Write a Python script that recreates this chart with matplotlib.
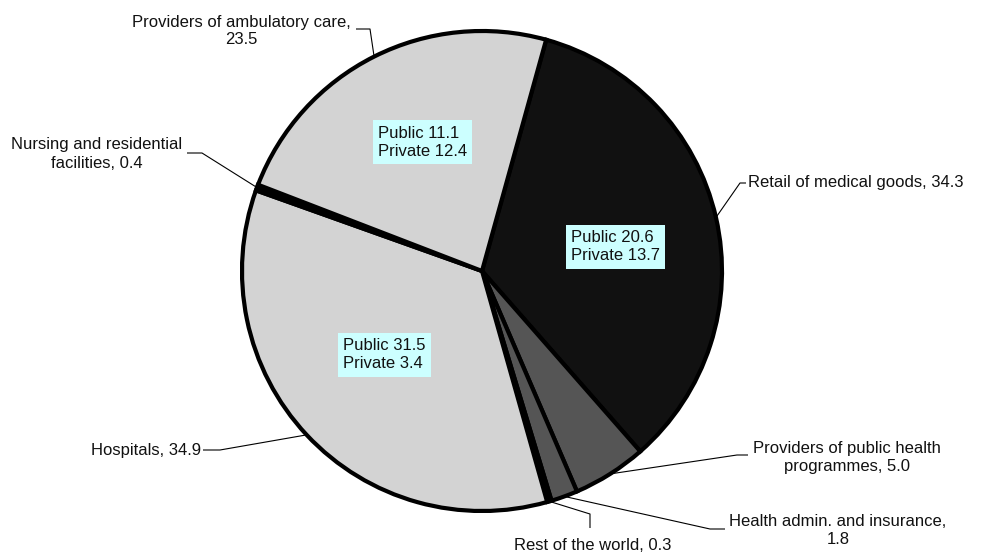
import numpy as np
import matplotlib
matplotlib.use("Agg")
import matplotlib.pyplot as plt

# ---- data ----
values = [34.3, 5.0, 1.8, 0.3, 34.9, 0.4, 23.5]
label_texts = ["Retail of medical goods, 34.3",
               "Providers of public health\nprogrammes, 5.0",
               "Health admin. and insurance,\n1.8",
               "Rest of the world, 0.3",
               "Hospitals, 34.9",
               "Nursing and residential\nfacilities, 0.4",
               "Providers of ambulatory care,\n23.5"]
public_vals = {0: 20.6, 4: 31.5, 6: 11.1}
private_vals = {0: 13.7, 4: 3.4, 6: 12.4}
colors = ["#111111", "#555555", "#555555", "#000000", "#d3d3d3", "#000000", "#d3d3d3"]

# ---- layout (pixel coordinates, y from top) ----
W, H = 983, 555
CX, CY, R = 482, 271, 240

def Y(y):
    return H - y

plt.rcParams['font.family'] = ['Liberation Sans', 'DejaVu Sans']
fig = plt.figure(figsize=(W / 100, H / 100), dpi=100)
ax = fig.add_axes([0, 0, 1, 1])

wedges, _ = ax.pie(values, colors=colors, startangle=74.5, counterclock=False,
                   center=(CX, Y(CY)), radius=R,
                   wedgeprops=dict(edgecolor="black", linewidth=3.0))
ax.set_xlim(0, W)
ax.set_ylim(0, H)
ax.set_aspect("equal")
ax.axis("off")

# label layout: (elbow point, line end near text, text pos, ha)
layout = {
    0: ((740, 183), (746, 183), (748, 183), "left"),
    1: ((737, 455), (748, 455), (847, 457), "center"),
    2: ((710, 529), (725, 529), (838, 530), "center"),
    3: ((590, 514), (590, 528), (593, 545), "center"),
    4: ((220, 450), (203, 450), (201, 450), "right"),
    5: ((202, 153), (187, 153), (97, 154), "center"),
    6: ((370, 29), (356, 29), (241, 31), "center"),
}

fs = 12
for i, w in enumerate(wedges):
    mid = np.deg2rad((w.theta1 + w.theta2) / 2)
    ex = CX + R * np.cos(mid)
    ey = Y(CY) + R * np.sin(mid)
    (bx, by), (lx, ly), (tx, ty), ha = layout[i]
    ax.plot([ex, bx, lx], [ey, Y(by), Y(ly)], color="black", lw=0.8,
            solid_capstyle="butt", zorder=5)
    ax.text(tx, Y(ty), label_texts[i], ha=ha, va="center", fontsize=fs,
            multialignment="center", color="#111111", linespacing=1.25)

# inner boxes
box_pos = {0: (571, 247), 4: (343, 355), 6: (378, 142)}
for i, (bx, by) in box_pos.items():
    ax.text(bx, Y(by), f"Public {public_vals[i]:.1f}\nPrivate {private_vals[i]:.1f}",
            ha="left", va="center", fontsize=fs, color="#111111", linespacing=1.25,
            bbox=dict(boxstyle="square,pad=0.32", facecolor="#ccffff", edgecolor="none"),
            zorder=6)

fig.savefig("out.png", dpi=100)
